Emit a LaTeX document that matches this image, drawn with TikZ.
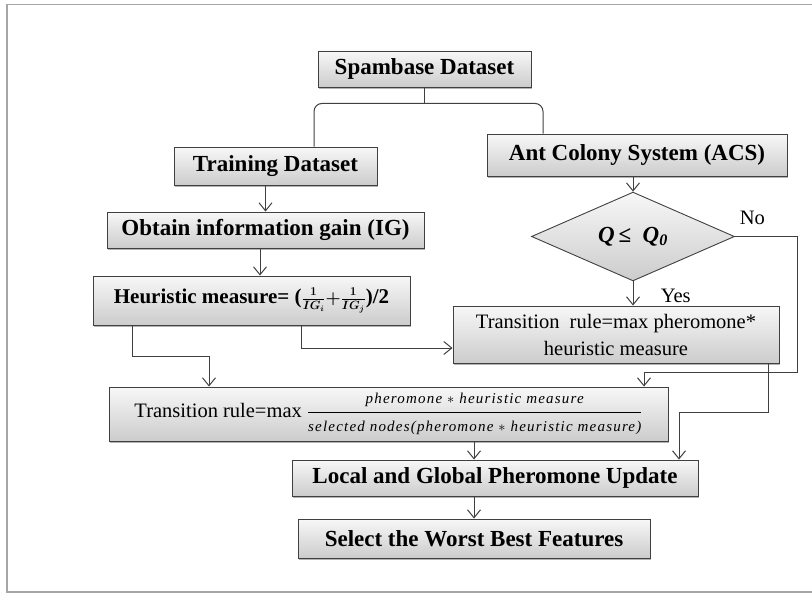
\documentclass[tikz,border=0pt]{standalone}
\usepackage{fontspec}
\setmainfont{Liberation Serif}
\newfontfamily\fracfont[LetterSpace=8]{Liberation Serif}
\usepackage{tikz}
\usetikzlibrary{shapes.geometric,arrows.meta,shadows,positioning}
\tikzstyle{arrow} = [draw=black!75, line width=1pt, -{Straight Barb[length=8pt,width=13pt]}]
\tikzstyle{box} = [draw=black!75, line width=0.9pt, top color=gray!6, bottom color=gray!40,
  drop shadow={shadow xshift=1.2pt, shadow yshift=-1.8pt, opacity=0.6},
  inner sep=2pt, font=\fontsize{23}{27}\selectfont\bfseries]
\tikzstyle{decision} = [draw=black!75, line width=0.9pt, top color=gray!6, bottom color=gray!40,
  diamond, inner sep=0pt, font=\fontsize{23}{27}\selectfont\bfseries\itshape]
\tikzstyle{regtext} = [font=\fontsize{20.5}{27}\selectfont]
\newcommand{\fractext}[1]{\mbox{\fontsize{15}{17}\selectfont\fracfont\itshape #1}}

\begin{document}
\begin{tikzpicture}[x=1pt, y=-1pt]
  \useasboundingbox (0,0) rectangle (812,594);
  \draw[gray!70, line width=1.2pt] (812,4.5) -- (7,4.5) -- (7,592) -- (812,592);

  \node[box, minimum width=213pt, minimum height=36pt] (spam)   at (424.5,69)  {Spambase Dataset};
  \node[box, minimum width=203pt, minimum height=38pt] (train)  at (275.5,166) {Training Dataset};
  \node[box, minimum width=300pt, minimum height=42pt] (acs)    at (637,155)   {Ant Colony System (ACS)};
  \node[box, minimum width=317pt, minimum height=36pt] (obtain) at (265.5,230) {Obtain information gain (IG)};
  \node[decision, minimum width=203pt, minimum height=75pt] (dia) at (633,236.5) {Q\,{\upshape≤}\ \ Q\textsubscript{0}};
  \node[box, font=\fontsize{21}{25}\selectfont\bfseries, minimum width=317pt, minimum height=49pt] (heur) at (251.5,300.5)
    {Heuristic measure= ({\fontsize{17}{19}\selectfont\boldmath$\frac{1}{IG_i}{+}\frac{1}{IG_j}$})/2};
  \node[box, regtext, align=center, minimum width=326pt, minimum height=57pt] (rmax) at (616,334.5)
    {Transition\ \ rule=max pheromone*\\heuristic measure};
  \node[box, regtext, minimum width=559pt, minimum height=54pt] (big) at (388.5,414)
    {Transition rule=max $\displaystyle\frac{\fractext{pheromone $\ast$ heuristic measure}}{\fractext{selected nodes(pheromone $\ast$ heuristic measure)}}$};
  \node[box, minimum width=406pt, minimum height=36pt] (update) at (495,478)   {Local and Global Pheromone Update};
  \node[box, minimum width=352pt, minimum height=39pt] (select) at (474,538.5) {Select the Worst Best Features};

  \draw[black!75, line width=1pt] (spam.south) -- ++(0,16) coordinate (split);
  \draw[black!75, line width=1pt, rounded corners=8pt] ([xshift=38.5pt]train.north) |- (split) -| ([xshift=-94pt]acs.north);
  \draw[arrow] (dia.north |- acs.south) -- (dia.north);
  \draw[arrow] (dia.south) -- node[pos=0.6, right=24pt, regtext] {Yes} (dia.south |- rmax.north);
  \draw[arrow] (dia.east) node[above right=8pt and 1pt, regtext] {No} -| ++(63,136) -| ([xshift=255.5pt]big.north);
  \draw[arrow] (obtain.north |- train.south) -- (obtain.north);
  \draw[arrow] ([xshift=8.5pt]heur.north |- obtain.south) -- ([xshift=8.5pt]heur.north);
  \draw[arrow] ([xshift=49.5pt]heur.south) |- ([yshift=-13.5pt]rmax.west);
  \draw[arrow] ([xshift=-119.5pt]heur.south) -- ++(0,31) -| ([xshift=-179.5pt]big.north);
  \draw[arrow] ([xshift=152pt]rmax.south) -- ++(0,49) -| ([xshift=184pt]update.north);
  \draw[arrow] (select.north |- big.south) -- (select.north |- update.north);
  \draw[arrow] (update.south -| select.north) -- (select.north);
\end{tikzpicture}
\end{document}
